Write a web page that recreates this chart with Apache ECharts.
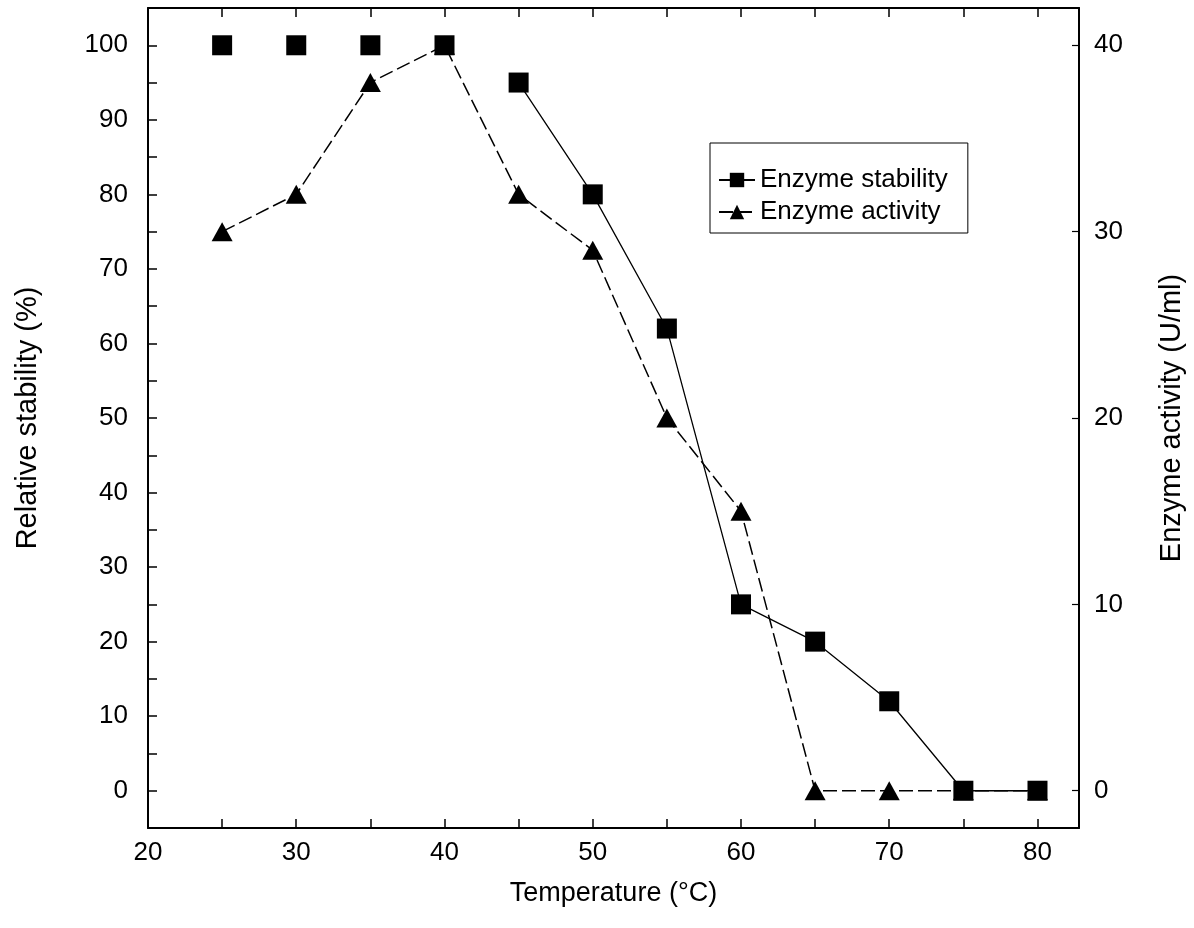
<!DOCTYPE html>
<html>
<head>
<meta charset="utf-8">
<script src="https://cdn.jsdelivr.net/npm/echarts@6/dist/echarts.min.js"></script>
<style>
  html, body { margin: 0; padding: 0; background: #fff; }
  #root { width: 1194px; height: 928px; }
</style>
</head>
<body>
<div id="root"></div>
<script>
// temperature (°C) on x
const temps = [25, 30, 35, 40, 45, 50, 55, 60, 65, 70, 75, 80]
// relative stability (%), left axis
const stability = [100, 100, 100, 100, 95, 80, 62, 25, 20, 12, 0, 0]
// enzyme activity (U/ml), right axis
const activity = [30, 32, 38, 40, 32, 29, 20, 15, 0, 0, 0, 0]

const xTicks = [20, 25, 30, 35, 40, 45, 50, 55, 60, 65, 70, 75, 80]
const xLabels = [20, 30, 40, 50, 60, 70, 80]
const leftTicks = [0, 5, 10, 15, 20, 25, 30, 35, 40, 45, 50, 55, 60, 65, 70, 75, 80, 85, 90, 95, 100]
const leftLabels = [0, 10, 20, 30, 40, 50, 60, 70, 80, 90, 100]
const rightLabels = [0, 10, 20, 30, 40]

const font = 'Liberation Sans, Arial, sans-serif'

const chart = echarts.init(document.getElementById('root'), null, { renderer: 'canvas' })

// the solid stability line only starts at 45 °C in the figure
const stabLine = temps.map((t, i) => [t, t >= 45 ? stability[i] : null])
const stabEarly = temps.map((t, i) => [t, stability[i]]).filter(p => p[0] < 45)

const axisLine = { show: true, onZero: false, lineStyle: { color: '#000', width: 2 } }
const tickStyle = { color: '#000', width: 1.5 }

chart.setOption({
  animation: false,
  backgroundColor: '#fff',
  textStyle: { fontFamily: font, color: '#000' },
  grid: { left: 148, right: 112, top: 8, bottom: 100 },
  legend: {
    data: ['Enzyme stability', 'Enzyme activity'],
    orient: 'vertical',
    left: 710,
    top: 143,
    padding: [24, 20, 8, 8],
    itemWidth: 36,
    itemHeight: 18,
    itemGap: 6,
    borderColor: '#000',
    borderWidth: 1,
    textStyle: { fontFamily: font, fontSize: 26, color: '#000' }
  },
  xAxis: [
    {
      type: 'value',
      min: 20,
      max: 82.8,
      name: 'Temperature (°C)',
      nameLocation: 'middle',
      nameGap: 52,
      nameTextStyle: { fontFamily: font, fontSize: 27, color: '#000' },
      axisLine: axisLine,
      splitLine: { show: false },
      axisTick: { inside: true, length: 9, customValues: xTicks, lineStyle: tickStyle },
      axisLabel: { customValues: xLabels, margin: 12, fontFamily: font, fontSize: 26, color: '#000' }
    },
    {
      type: 'value',
      position: 'top',
      min: 20,
      max: 82.8,
      axisLine: axisLine,
      splitLine: { show: false },
      axisTick: { inside: true, length: 9, customValues: xTicks, lineStyle: tickStyle },
      axisLabel: { show: false }
    }
  ],
  yAxis: [
    {
      type: 'value',
      min: -5,
      max: 105,
      name: 'Relative stability (%)',
      nameLocation: 'middle',
      nameGap: 106,
      nameTextStyle: { fontFamily: font, fontSize: 29, color: '#000' },
      axisLine: axisLine,
      splitLine: { show: false },
      axisTick: { inside: true, length: 9, customValues: leftTicks, lineStyle: tickStyle },
      axisLabel: { customValues: leftLabels, margin: 20, fontFamily: font, fontSize: 26, color: '#000' }
    },
    {
      type: 'value',
      min: -2,
      max: 42,
      position: 'right',
      name: 'Enzyme activity (U/ml)',
      nameLocation: 'middle',
      nameGap: 78,
      nameRotate: 90,
      nameTextStyle: { fontFamily: font, fontSize: 29, color: '#000' },
      axisLine: axisLine,
      splitLine: { show: false },
      axisTick: { inside: true, length: 7, customValues: rightLabels, lineStyle: { color: '#000', width: 1.2 } },
      axisLabel: { customValues: rightLabels, margin: 15, fontFamily: font, fontSize: 26, color: '#000' }
    }
  ],
  series: [
    {
      name: 'Enzyme activity',
      type: 'line',
      yAxisIndex: 1,
      data: temps.map((t, i) => [t, activity[i]]),
      symbol: 'triangle',
      symbolSize: [21, 19],
      itemStyle: { color: '#000', opacity: 1 },
      lineStyle: { color: '#000', width: 1.5, type: [14, 5] },
      z: 2
    },
    {
      name: 'Enzyme stability',
      type: 'line',
      data: stabLine,
      connectNulls: false,
      symbol: 'rect',
      symbolSize: 20,
      itemStyle: { color: '#000', opacity: 1 },
      lineStyle: { color: '#000', width: 1.3 },
      z: 3
    },
    {
      name: 'Enzyme stability',
      type: 'scatter',
      data: stabEarly,
      symbol: 'rect',
      symbolSize: 20,
      itemStyle: { color: '#000', opacity: 1 },
      z: 3
    }
  ]
})
</script>
</body>
</html>
